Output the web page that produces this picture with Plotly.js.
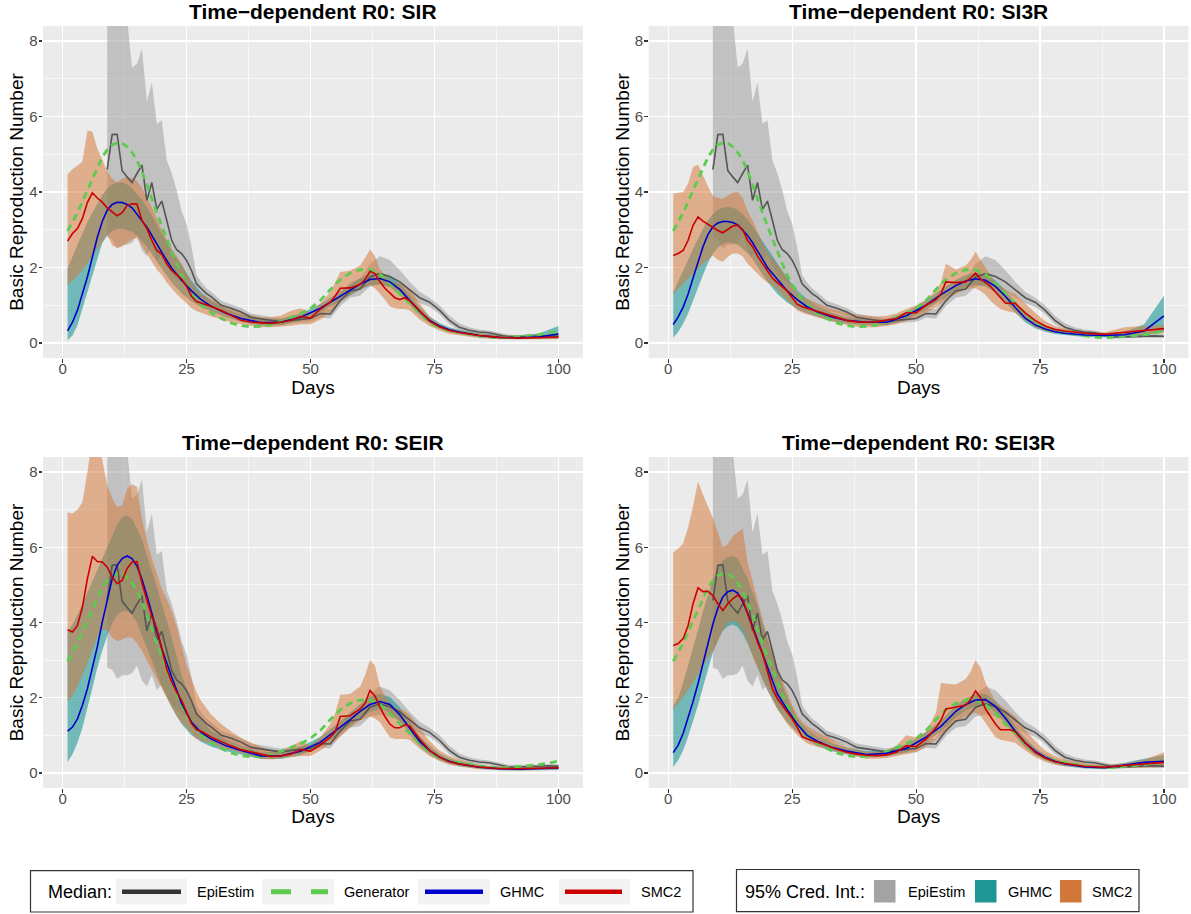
<!DOCTYPE html>
<html><head><meta charset="utf-8">
<script src="https://cdn.plot.ly/plotly-3.0.1.min.js"></script>
<style>html,body{margin:0;padding:0;background:#fff}#chart{width:1191px;height:914px}</style>
</head><body><div id="chart"></div>
<script>
// ---------------- DATA ----------------
// EpiEstim (same data for all four models)
const epiDays = [9,10,11,12,13,14,15,16,17,18,19,20,21,22,23,24,25,26,27,28,29,30,32,34,36,38,40,42,44,46,48,50,52,54,56,58,60,62,64,66,68,70,72,74,76,78,80,82,84,86,88,90,92,94,96,98,100];
const epiMed = [4.59,5.52,5.53,4.57,4.4,4.25,4.49,4.71,3.78,4.25,3.54,3.76,3.25,2.72,2.47,2.37,2.19,1.92,1.57,1.44,1.31,1.22,1.0,0.92,0.82,0.68,0.64,0.6,0.56,0.6,0.62,0.65,0.78,0.77,1.12,1.38,1.43,1.75,1.84,1.76,1.62,1.4,1.2,1.08,0.87,0.6,0.42,0.34,0.29,0.27,0.21,0.16,0.16,0.17,0.18,0.19,0.18];
const epiHi = [9.5,10,10,9.8,8.6,7.3,7.4,7.8,6.4,6.9,5.8,5.9,4.85,4.5,4.05,3.5,3.15,2.55,1.8,1.6,1.45,1.35,1.12,1.03,0.93,0.78,0.73,0.69,0.65,0.69,0.71,0.75,0.9,0.9,1.32,1.6,1.7,2.1,2.3,2.2,1.93,1.62,1.36,1.2,1.0,0.72,0.52,0.42,0.36,0.33,0.27,0.22,0.21,0.22,0.23,0.24,0.24];
const epiLo = [2.8,2.75,2.5,2.6,2.6,2.65,2.85,2.45,2.3,2.6,2.2,2.35,2.05,1.8,1.68,1.6,1.5,1.38,1.2,1.12,1.05,0.98,0.85,0.8,0.71,0.6,0.56,0.52,0.48,0.52,0.54,0.56,0.67,0.65,0.98,1.2,1.25,1.5,1.55,1.5,1.38,1.2,1.05,0.96,0.77,0.5,0.34,0.27,0.23,0.22,0.16,0.12,0.12,0.13,0.14,0.14,0.13];

// Generator (true R0, same for all models)
const genDays = [1,2,3,4,5,6,7,8,9,10,11,12,13,14,15,16,17,18,19,20,21,22,23,24,25,26,27,28,30,32,34,36,38,40,42,44,46,48,50,52,54,56,58,60,62,64,66,68,70,72,74,76,78,80,82,84,86,88,90,92,94,96,98,100];
const genVal = [2.97,3.2,3.45,3.75,4.05,4.35,4.65,4.92,5.12,5.25,5.3,5.3,5.2,5.05,4.84,4.55,4.2,3.8,3.45,3.1,2.75,2.4,2.1,1.8,1.55,1.35,1.15,1.0,0.8,0.65,0.53,0.46,0.43,0.44,0.48,0.57,0.67,0.78,0.92,1.13,1.42,1.68,1.85,1.94,1.94,1.82,1.58,1.3,1.05,0.78,0.55,0.4,0.32,0.27,0.22,0.19,0.16,0.14,0.15,0.17,0.19,0.22,0.26,0.32];

// GHMC day grid
const ghmcDays = [1,2,3,4,5,6,7,8,9,10,11,12,13,14,15,16,17,18,19,20,22,24,26,28,30,33,36,40,44,48,52,55,58,60,62,64,66,68,70,72,74,76,78,80,84,88,92,96,100];
// SMC2 day grid
const smcDays = [1,2,3,4,5,6,7,8,9,10,11,12,13,14,15,16,17,18,19,20,21,22,23,24,25,26,27,28,30,32,34,36,38,40,42,44,46,48,50,52,54,55,56,58,60,61,62,63,64,65,66,67,68,69,70,72,74,76,78,80,84,88,92,96,100];

// --- SIR ---
const sirGhmcMed = [0.32,0.55,0.87,1.28,1.75,2.27,2.8,3.22,3.52,3.67,3.73,3.72,3.67,3.58,3.42,3.25,3.07,2.85,2.62,2.4,1.98,1.66,1.38,1.14,0.97,0.79,0.65,0.54,0.55,0.68,0.92,1.15,1.4,1.56,1.68,1.71,1.62,1.42,1.14,0.84,0.6,0.45,0.35,0.29,0.2,0.15,0.14,0.16,0.24];
const sirGhmcHi = [1.97,2.3,2.6,2.9,3.2,3.45,3.7,3.92,4.1,4.2,4.25,4.25,4.2,4.1,3.95,3.8,3.6,3.38,3.15,2.9,2.45,2.05,1.65,1.33,1.12,0.9,0.75,0.63,0.64,0.78,1.03,1.28,1.55,1.72,1.84,1.86,1.77,1.57,1.27,0.96,0.7,0.53,0.42,0.35,0.26,0.21,0.2,0.25,0.45];
const sirGhmcLo = [0.07,0.2,0.47,0.87,1.33,1.78,2.22,2.65,2.85,2.97,3.02,3.03,3.0,2.95,2.85,2.7,2.55,2.35,2.15,1.95,1.6,1.32,1.1,0.95,0.83,0.68,0.56,0.46,0.47,0.59,0.82,1.03,1.26,1.41,1.53,1.56,1.48,1.28,1.02,0.74,0.52,0.38,0.29,0.24,0.15,0.11,0.1,0.11,0.12];
const sirSmcMed = [2.7,2.9,3.03,3.3,3.72,3.98,3.84,3.73,3.58,3.48,3.37,3.45,3.64,3.69,3.68,3.25,3.03,2.72,2.45,2.35,2.1,1.92,1.8,1.7,1.5,1.24,1.1,1.06,0.97,0.86,0.72,0.6,0.55,0.53,0.52,0.55,0.6,0.7,0.66,0.9,1.08,1.25,1.45,1.46,1.55,1.68,1.9,1.84,1.62,1.45,1.33,1.2,1.15,1.2,1.12,0.85,0.58,0.43,0.33,0.28,0.2,0.15,0.13,0.14,0.16];
const sirSmcHi = [4.47,4.6,4.7,4.8,5.63,5.6,5.15,4.85,4.55,4.35,4.25,4.35,4.4,4.38,4.3,4.1,3.85,3.6,3.3,3.0,2.75,2.5,2.3,2.1,1.85,1.6,1.42,1.3,1.15,1.02,0.92,0.8,0.74,0.68,0.68,0.72,0.85,0.92,0.8,1.05,1.35,1.6,1.88,1.92,2.05,2.25,2.48,2.3,1.95,1.8,1.65,1.6,1.58,1.55,1.42,1.05,0.7,0.5,0.38,0.33,0.25,0.21,0.2,0.21,0.22];
const sirSmcLo = [1.53,1.65,1.78,1.92,2.1,2.3,2.5,2.7,2.88,2.58,2.52,2.55,2.65,2.75,2.78,2.55,2.35,2.15,1.95,1.8,1.6,1.45,1.3,1.18,1.05,0.93,0.85,0.8,0.7,0.62,0.55,0.5,0.45,0.42,0.42,0.44,0.46,0.5,0.5,0.62,0.82,0.95,1.08,1.28,1.42,1.48,1.53,1.45,1.3,1.15,0.97,0.92,0.9,0.9,0.87,0.62,0.45,0.33,0.24,0.2,0.13,0.1,0.09,0.1,0.1];

// --- SI3R ---
const si3rGhmcMed = [0.49,0.69,0.95,1.3,1.72,2.15,2.55,2.87,3.08,3.18,3.22,3.22,3.19,3.13,3.0,2.85,2.66,2.42,2.22,2.0,1.68,1.38,1.15,0.96,0.83,0.69,0.6,0.55,0.55,0.72,1.0,1.28,1.52,1.64,1.7,1.66,1.5,1.24,0.94,0.66,0.48,0.37,0.3,0.26,0.21,0.2,0.22,0.32,0.72];
const si3rGhmcHi = [1.35,1.62,1.9,2.2,2.5,2.78,3.03,3.25,3.42,3.53,3.58,3.6,3.58,3.52,3.42,3.28,3.1,2.9,2.7,2.5,2.1,1.72,1.4,1.15,0.98,0.8,0.69,0.63,0.63,0.82,1.12,1.42,1.67,1.8,1.86,1.82,1.66,1.4,1.08,0.78,0.58,0.45,0.37,0.32,0.27,0.26,0.3,0.5,1.25];
const si3rGhmcLo = [0.14,0.29,0.51,0.78,1.09,1.45,1.8,2.12,2.37,2.52,2.62,2.66,2.65,2.6,2.5,2.38,2.22,2.02,1.82,1.62,1.3,1.07,0.9,0.78,0.69,0.58,0.51,0.47,0.47,0.62,0.88,1.14,1.37,1.48,1.54,1.5,1.34,1.08,0.8,0.55,0.39,0.3,0.24,0.21,0.16,0.15,0.16,0.2,0.3];
const si3rSmcMed = [2.32,2.37,2.45,2.72,3.12,3.34,3.23,3.15,3.05,2.98,2.92,3.0,3.1,3.12,3.0,2.72,2.55,2.3,2.1,1.9,1.72,1.6,1.5,1.38,1.2,1.03,0.96,0.92,0.85,0.76,0.67,0.6,0.56,0.55,0.56,0.6,0.65,0.8,0.8,1.0,1.15,1.3,1.62,1.6,1.62,1.72,1.85,1.7,1.6,1.5,1.35,1.2,1.06,1.05,1.05,0.8,0.6,0.45,0.36,0.32,0.26,0.23,0.28,0.32,0.38];
const si3rSmcHi = [3.96,3.97,4.0,4.22,4.66,4.73,4.42,4.15,3.9,3.84,3.82,3.9,3.98,4.0,3.85,3.5,3.25,2.95,2.65,2.4,2.22,2.07,1.9,1.72,1.5,1.35,1.22,1.17,1.05,0.95,0.87,0.8,0.75,0.72,0.7,0.72,0.78,0.9,1.0,1.15,1.4,1.6,2.1,1.95,2.05,2.2,2.42,2.2,2.0,1.8,1.6,1.5,1.42,1.35,1.3,1.05,0.8,0.58,0.45,0.38,0.31,0.28,0.42,0.45,0.48];
const si3rSmcLo = [1.3,1.43,1.57,1.7,1.84,1.97,2.1,2.22,2.32,2.2,2.15,2.28,2.37,2.37,2.3,2.1,1.97,1.84,1.7,1.6,1.53,1.4,1.25,1.13,1.0,0.87,0.8,0.75,0.68,0.6,0.53,0.48,0.43,0.42,0.42,0.45,0.5,0.58,0.65,0.8,0.95,1.05,1.15,1.3,1.42,1.45,1.45,1.38,1.28,1.12,1.0,0.9,0.85,0.82,0.8,0.6,0.42,0.32,0.27,0.25,0.21,0.2,0.2,0.22,0.25];

// --- SEIR ---
const seirGhmcMed = [1.11,1.22,1.44,1.8,2.24,2.77,3.35,4.01,4.63,5.16,5.52,5.7,5.77,5.7,5.5,5.15,4.72,4.25,3.75,3.3,2.55,1.85,1.35,1.07,0.9,0.72,0.6,0.45,0.45,0.58,0.82,1.11,1.42,1.64,1.82,1.9,1.82,1.55,1.2,0.84,0.6,0.42,0.31,0.24,0.15,0.11,0.1,0.11,0.13];
const seirGhmcHi = [3.75,3.95,4.2,4.5,4.8,5.1,5.4,5.7,6.0,6.3,6.6,6.8,6.85,6.75,6.5,6.2,5.8,5.4,4.95,4.5,3.6,2.6,1.9,1.4,1.12,0.88,0.72,0.55,0.55,0.7,0.96,1.27,1.6,1.83,2.02,2.1,2.02,1.75,1.37,0.98,0.72,0.52,0.39,0.31,0.21,0.16,0.15,0.16,0.2];
const seirGhmcLo = [0.29,0.5,0.8,1.2,1.75,2.25,2.8,3.25,3.65,3.98,4.2,4.3,4.3,4.2,4.0,3.7,3.35,3.0,2.65,2.3,1.75,1.3,1.0,0.82,0.7,0.58,0.49,0.37,0.37,0.48,0.7,0.96,1.25,1.46,1.62,1.7,1.62,1.37,1.04,0.71,0.49,0.34,0.24,0.18,0.11,0.07,0.06,0.07,0.08];
const seirSmcMed = [3.81,3.75,3.92,4.41,5.16,5.76,5.62,5.61,5.47,5.21,5.03,5.12,5.43,5.61,5.62,5.05,4.6,4.17,3.84,3.3,2.77,2.42,2.15,1.93,1.62,1.31,1.15,1.11,0.95,0.83,0.72,0.62,0.55,0.5,0.44,0.45,0.5,0.62,0.58,0.75,0.95,1.1,1.5,1.52,1.7,1.85,2.19,2.05,1.75,1.5,1.3,1.2,1.2,1.28,1.25,0.9,0.6,0.42,0.3,0.24,0.16,0.12,0.11,0.12,0.14];
const seirSmcHi = [6.93,6.9,7.0,7.2,8.0,8.9,9.0,8.3,7.65,7.3,7.07,7.11,7.55,7.68,7.6,6.76,6.18,5.7,5.3,4.9,4.63,4.3,3.9,3.4,2.86,2.5,2.15,1.9,1.55,1.3,1.1,0.93,0.8,0.7,0.6,0.6,0.7,0.85,0.72,0.95,1.3,1.6,2.08,2.1,2.3,2.6,3.0,2.85,2.3,2.05,1.85,1.75,1.7,1.65,1.55,1.2,0.85,0.6,0.45,0.35,0.22,0.17,0.15,0.17,0.2];
const seirSmcLo = [1.89,2.05,2.3,2.6,2.9,3.25,3.6,3.8,3.8,3.6,3.5,3.55,3.6,3.6,3.45,3.25,3.0,2.75,2.5,2.25,2.0,1.75,1.5,1.33,1.2,1.05,0.9,0.85,0.76,0.68,0.6,0.52,0.45,0.38,0.36,0.38,0.42,0.45,0.45,0.6,0.78,0.85,0.95,1.2,1.4,1.45,1.5,1.45,1.35,1.15,0.95,0.9,0.9,0.9,0.88,0.65,0.45,0.32,0.22,0.17,0.1,0.08,0.07,0.08,0.1];

// --- SEI3R ---
const sei3rGhmcMed = [0.54,0.74,1.05,1.45,1.9,2.38,2.9,3.43,3.96,4.38,4.68,4.82,4.86,4.78,4.56,4.25,3.9,3.5,3.15,2.8,2.1,1.68,1.3,1.0,0.85,0.68,0.58,0.49,0.52,0.65,0.95,1.24,1.64,1.82,1.94,1.95,1.77,1.46,1.11,0.8,0.58,0.42,0.31,0.24,0.16,0.14,0.2,0.28,0.31];
const sei3rGhmcHi = [1.78,2.0,2.4,2.85,3.35,3.8,4.3,4.75,5.15,5.45,5.65,5.75,5.77,5.7,5.45,5.16,4.8,4.45,4.0,3.55,2.7,2.0,1.45,1.15,0.98,0.8,0.68,0.58,0.6,0.76,1.08,1.4,1.8,1.98,2.1,2.1,1.92,1.6,1.24,0.92,0.68,0.5,0.38,0.3,0.21,0.19,0.27,0.38,0.48];
const sei3rGhmcLo = [0.16,0.34,0.6,0.96,1.36,1.8,2.28,2.77,3.2,3.52,3.78,3.9,3.95,3.88,3.7,3.45,3.15,2.82,2.5,2.2,1.7,1.35,1.08,0.87,0.72,0.58,0.49,0.41,0.44,0.55,0.83,1.1,1.48,1.66,1.78,1.8,1.62,1.32,0.98,0.68,0.48,0.34,0.24,0.18,0.12,0.1,0.14,0.19,0.18];
const sei3rSmcMed = [3.39,3.44,3.57,3.92,4.5,4.92,4.82,4.83,4.72,4.5,4.32,4.5,4.63,4.73,4.62,4.25,3.84,3.48,3.17,2.68,2.24,1.98,1.8,1.62,1.44,1.22,0.96,0.91,0.83,0.73,0.63,0.55,0.5,0.47,0.46,0.48,0.55,0.72,0.7,0.9,1.2,1.4,1.7,1.75,1.8,1.95,2.18,2.0,1.7,1.5,1.3,1.15,1.15,1.15,1.1,0.8,0.55,0.4,0.3,0.25,0.18,0.15,0.2,0.25,0.28];
const sei3rSmcHi = [5.87,5.96,6.1,6.53,7.09,7.75,7.4,7.1,6.78,6.39,6.0,6.08,6.3,6.39,6.49,5.6,5.1,4.55,4.1,3.6,3.2,2.8,2.45,2.15,1.8,1.55,1.36,1.25,1.08,0.96,0.82,0.7,0.62,0.56,0.56,0.6,0.72,1.0,0.95,1.1,1.6,2.4,2.38,2.35,2.5,2.7,3.0,2.8,2.4,2.15,1.9,1.8,1.7,1.6,1.5,1.15,0.85,0.6,0.45,0.36,0.26,0.22,0.25,0.35,0.55];
const sei3rSmcLo = [1.68,1.85,2.0,2.2,2.4,2.62,2.85,3.05,3.25,3.5,3.8,4.0,4.05,4.0,3.8,3.5,3.1,2.8,2.5,2.2,1.95,1.7,1.5,1.3,1.15,1.0,0.88,0.78,0.7,0.63,0.56,0.5,0.44,0.38,0.38,0.4,0.44,0.5,0.55,0.7,0.88,1.0,1.1,1.35,1.5,1.55,1.6,1.52,1.35,1.15,0.95,0.88,0.85,0.83,0.8,0.6,0.42,0.3,0.22,0.18,0.14,0.12,0.13,0.15,0.15];

const panelTitles = ['Time\u2212dependent R0: SIR','Time\u2212dependent R0: SI3R','Time\u2212dependent R0: SEIR','Time\u2212dependent R0: SEI3R'];
const xTickVals = [0,25,50,75,100];
const yTickVals = [0,2,4,6,8];
const medianLabels = ['EpiEstim','Generator','GHMC','SMC2'];
const bandLabels = ['EpiEstim','GHMC','SMC2'];

// ---------------- STYLE ----------------
const W = 1191, H = 914;
const FONT = 'Liberation Sans, Arial, Helvetica, sans-serif';
const C = {
  epiLine:'#555555', gen:'#5CCB4F', ghmc:'#0000CC', smc:'#CC0000',
  epiBand:'rgba(160,160,160,0.56)', ghmcBand:'rgba(31,152,152,0.6)', smcBand:'rgba(212,118,56,0.52)',
  epiKey:'#A3A3A3', ghmcKey:'#1F9696', smcKey:'#D2773A', epiKeyLine:'#333333'
};
const PX = x => x / W, PY = y => 1 - y / H;

const panels = [
  {xa:'x', ya:'y', gM:sirGhmcMed, gH:sirGhmcHi, gL:sirGhmcLo, sM:sirSmcMed, sH:sirSmcHi, sL:sirSmcLo},
  {xa:'x2', ya:'y2', gM:si3rGhmcMed, gH:si3rGhmcHi, gL:si3rGhmcLo, sM:si3rSmcMed, sH:si3rSmcHi, sL:si3rSmcLo},
  {xa:'x3', ya:'y3', gM:seirGhmcMed, gH:seirGhmcHi, gL:seirGhmcLo, sM:seirSmcMed, sH:seirSmcHi, sL:seirSmcLo},
  {xa:'x4', ya:'y4', gM:sei3rGhmcMed, gH:sei3rGhmcHi, gL:sei3rGhmcLo, sM:sei3rSmcMed, sH:sei3rSmcHi, sL:sei3rSmcLo}
];
// sanity check
[[epiDays,epiMed],[epiDays,epiHi],[epiDays,epiLo],[genDays,genVal]].forEach(([a,b],i)=>{ if(a.length!==b.length) throw new Error('len mismatch shared '+i+' '+a.length+' '+b.length); });
panels.forEach((p,i)=>{
  ['gM','gH','gL'].forEach(k=>{ if(p[k].length!==ghmcDays.length) throw new Error('panel '+i+' '+k+' '+p[k].length); });
  ['sM','sH','sL'].forEach(k=>{ if(p[k].length!==smcDays.length) throw new Error('panel '+i+' '+k+' '+p[k].length); });
});

function band(x, lo, hi, fill, xa, ya, name){
  return {type:'scatter', mode:'lines', name, x:x.concat(x.slice().reverse()), y:hi.concat(lo.slice().reverse()),
    fill:'toself', fillcolor:fill, line:{width:0, color:fill}, hoverinfo:'skip', showlegend:false, xaxis:xa, yaxis:ya};
}
function line(x, y, color, width, dash, xa, ya, name){
  return {type:'scatter', mode:'lines', name, x, y, line:{color, width, dash:dash||'solid'}, hoverinfo:'skip', showlegend:false, xaxis:xa, yaxis:ya};
}

const traces = [];
panels.forEach(p=>{
  traces.push(band(epiDays, epiLo, epiHi, C.epiBand, p.xa, p.ya, 'EpiEstim 95%'));
  traces.push(band(ghmcDays, p.gL, p.gH, C.ghmcBand, p.xa, p.ya, 'GHMC 95%'));
  traces.push(band(smcDays, p.sL, p.sH, C.smcBand, p.xa, p.ya, 'SMC2 95%'));
  traces.push(line(epiDays, epiMed, C.epiLine, 1.6, null, p.xa, p.ya, 'EpiEstim'));
  traces.push(line(genDays, genVal, C.gen, 2.8, '7px,5px', p.xa, p.ya, 'Generator'));
  traces.push(line(ghmcDays, p.gM, C.ghmc, 1.6, null, p.xa, p.ya, 'GHMC'));
  traces.push(line(smcDays, p.sM, C.smc, 1.6, null, p.xa, p.ya, 'SMC2'));
});

const xDomL = [PX(43), PX(583)], xDomR = [PX(648.7), PX(1188.5)];
const yDomT = [PY(358.1), PY(25.9)], yDomB = [PY(788), PY(457)];

function xAxis(domain, anchor){
  return {domain, anchor, range:[-3.95,104.95], tickmode:'array', tickvals:xTickVals, ticktext:xTickVals.map(String),
    showgrid:true, gridcolor:'#FFFFFF', gridwidth:1.3,
    minor:{tickmode:'linear', tick0:0, dtick:12.5, showgrid:true, gridcolor:'#FFFFFF', gridwidth:0.6, ticks:''},
    zeroline:false, showline:false, ticks:'outside', ticklen:3.5, tickwidth:1.1, tickcolor:'#333333',
    ticklabelstandoff:-7,
    tickfont:{family:FONT, size:15, color:'#4D4D4D'},
    title:{text:'Days', font:{family:FONT, size:19, color:'#000000'}, standoff:0}, fixedrange:true};
}
function yAxis(domain, anchor){
  return {domain, anchor, range:[-0.4,8.4], tickmode:'array', tickvals:yTickVals, ticktext:yTickVals.map(String),
    showgrid:true, gridcolor:'#FFFFFF', gridwidth:1.3,
    minor:{tickmode:'linear', tick0:0, dtick:1, showgrid:true, gridcolor:'#FFFFFF', gridwidth:0.6, ticks:''},
    zeroline:false, showline:false, ticks:'outside', ticklen:3.5, tickwidth:1.1, tickcolor:'#333333',
    ticklabelstandoff:-2,
    tickfont:{family:FONT, size:15, color:'#4D4D4D'},
    title:{text:'Basic Reproduction Number', font:{family:FONT, size:19, color:'#000000'}, standoff:0}, fixedrange:true};
}

const annotations = [];
const titlePos = [[ (xDomL[0]+xDomL[1])/2, PY(11)], [(xDomR[0]+xDomR[1])/2, PY(11)], [(xDomL[0]+xDomL[1])/2, PY(442.5)], [(xDomR[0]+xDomR[1])/2, PY(442.5)]];
panelTitles.forEach((t,i)=>annotations.push({text:'<b>'+t+'</b>', xref:'paper', yref:'paper', x:titlePos[i][0], y:titlePos[i][1],
  xanchor:'center', yanchor:'middle', showarrow:false, font:{family:FONT, size:21, color:'#000000'}}));

// ---- legends (drawn as shapes + text) ----
const shapes = [];
const legY = 891.7;
function rect(x0,y0,x1,y1,fill,lineColor,lw){ shapes.push({type:'rect', xref:'paper', yref:'paper', x0:PX(x0), x1:PX(x1), y0:PY(y1), y1:PY(y0), fillcolor:fill, line:{color:lineColor||fill, width:lw||0}, layer:'above'}); }
function hline(x0,x1,y,color,w){ shapes.push({type:'line', xref:'paper', yref:'paper', x0:PX(x0), x1:PX(x1), y0:PY(y), y1:PY(y), line:{color, width:w}, layer:'above'}); }
function txt(x,y,s,size){ annotations.push({text:s, xref:'paper', yref:'paper', x:PX(x), y:PY(y), xanchor:'left', yanchor:'middle', showarrow:false, font:{family:FONT, size, color:'#000000'}}); }

// box 1 : medians
rect(30.5, 870.7, 693, 912, '#FFFFFF', '#333333', 1.2);
txt(46, legY, 'Median:', 18);
const medKeys = [[116,187],[262,334],[418,490],[559,630]];
const medTextX = [195, 342, 498, 639];
medKeys.forEach(k=>rect(k[0], 879, k[1], 904.5, '#F2F2F2'));
hline(122, 181, legY, C.epiKeyLine, 4.5);
rect(271, legY-2.5, 291, legY+2.5, C.gen);
rect(311, legY-2.5, 328, legY+2.5, C.gen);
hline(425, 483, legY, C.ghmc, 4.5);
hline(565, 622, legY, C.smc, 4.5);
medianLabels.forEach((s,i)=>txt(medTextX[i], legY, s, 14.5));

// box 2 : credible intervals
rect(736.5, 869.5, 1139, 911.7, '#FFFFFF', '#333333', 1.2);
txt(743, legY, '95% Cred. Int.:', 18);
const bandKeyX = [874, 975, 1060];
const bandKeyCol = [C.epiKey, C.ghmcKey, C.smcKey];
const bandTextX = [906, 1006, 1090];
bandKeyX.forEach((x,i)=>rect(x, 880, x+21.5, 902.5, bandKeyCol[i]));
bandLabels.forEach((s,i)=>txt(bandTextX[i], legY, s, 14.5));

const layout = {
  width:W, height:H, margin:{l:0,r:0,t:0,b:0}, paper_bgcolor:'#FFFFFF', plot_bgcolor:'#EBEBEB',
  showlegend:false, font:{family:FONT},
  xaxis:xAxis(xDomL,'y'), yaxis:yAxis(yDomT,'x'),
  xaxis2:xAxis(xDomR,'y2'), yaxis2:yAxis(yDomT,'x2'),
  xaxis3:xAxis(xDomL,'y3'), yaxis3:yAxis(yDomB,'x3'),
  xaxis4:xAxis(xDomR,'y4'), yaxis4:yAxis(yDomB,'x4'),
  annotations, shapes
};
Plotly.newPlot('chart', traces, layout, {staticPlot:true, displayModeBar:false});
</script></body></html>
